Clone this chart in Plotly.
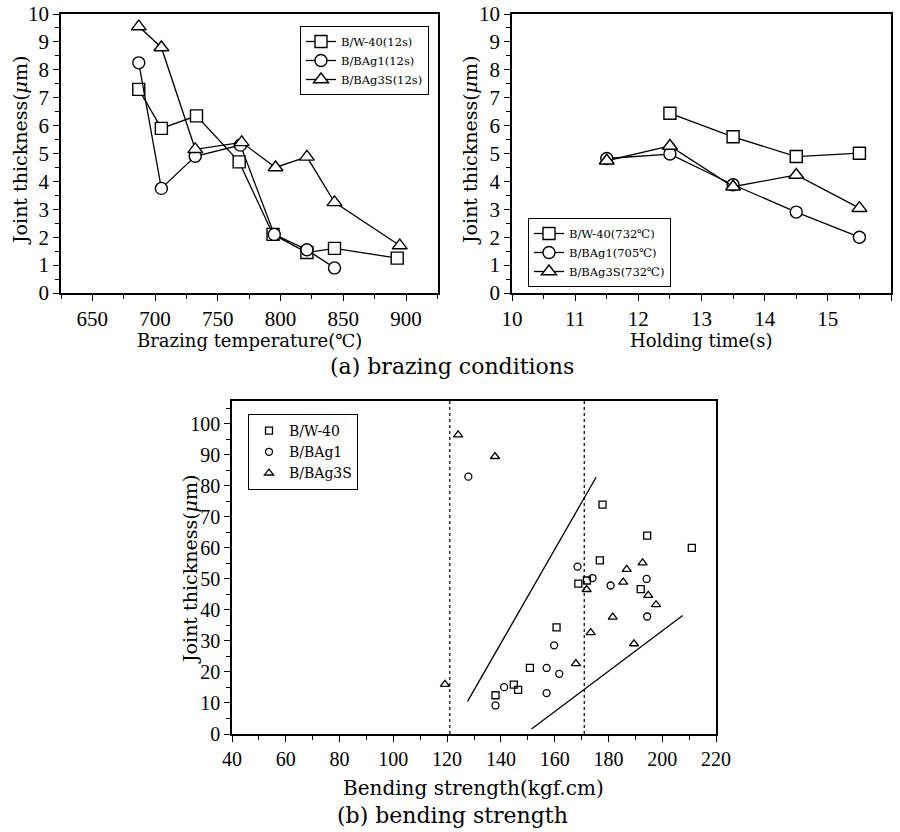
import plotly.graph_objects as go

# ---------------- data ----------------
# (a) left: joint thickness vs brazing temperature (12 s)
temp_w40 = [687, 705, 733, 767, 794, 821, 843, 893]
thk_w40 = [7.3, 5.9, 6.35, 4.7, 2.1, 1.45, 1.6, 1.25]
temp_bag1 = [687, 705, 732, 768, 795, 821, 843]
thk_bag1 = [8.25, 3.75, 4.9, 5.3, 2.1, 1.55, 0.9]
temp_bag3s = [687, 705, 732, 769, 796, 821, 843, 895]
thk_bag3s = [9.55, 8.8, 5.15, 5.4, 4.5, 4.88, 3.25, 1.7]

# (a) right: joint thickness vs holding time
time_w40 = [12.5, 13.5, 14.5, 15.5]
hthk_w40 = [6.44, 5.6, 4.89, 5.01]
time_bag1 = [11.5, 12.5, 13.5, 14.5, 15.5]
hthk_bag1 = [4.82, 4.98, 3.88, 2.9, 2.0]
time_bag3s = [11.5, 12.5, 13.5, 14.5, 15.5]
hthk_bag3s = [4.74, 5.27, 3.81, 4.23, 3.04]

# (b): joint thickness vs bending strength
bs_w40 = [177.8, 194.4, 211.0, 176.8, 168.8, 172.0, 192.0, 160.7, 150.8, 138.0, 144.8, 146.4]
jt_w40 = [74.0, 64.0, 60.0, 56.0, 48.5, 49.5, 46.7, 34.4, 21.3, 12.5, 15.9, 14.2]
bs_bag1 = [127.9, 168.5, 174.1, 180.8, 194.2, 194.4, 159.8, 157.0, 161.7, 157.0, 141.2, 138.0]
jt_bag1 = [83.0, 54.0, 50.3, 47.9, 50.0, 37.9, 28.6, 21.3, 19.4, 13.2, 15.1, 9.2]
bs_bag3s = [124.1, 137.8, 119.2, 167.9, 171.9, 173.4, 181.6, 185.5, 186.8, 192.7, 194.8, 197.7, 189.5]
jt_bag3s = [96.5, 89.5, 16.0, 22.7, 46.6, 32.7, 37.7, 49.0, 53.1, 55.2, 44.7, 41.7, 29.1]

# guide lines in (b)
upper_bs = [127.6, 175.4]
upper_jt = [10.5, 82.8]
lower_bs = [151.4, 207.6]
lower_jt = [1.6, 38.2]
limit_bs = [121, 171]
limit_jt = [0, 107.4]

W, H = 900, 832
SERIF = "DejaVu Serif"
TICKFONT = "Liberation Serif"


def px(x):
    return x / W


def py(y):
    return 1 - y / H


fig = go.Figure()

big = dict(size=12, color="white", line=dict(color="black", width=1.4))
line_style = dict(color="black", width=1.3)

# ---- top-left traces
fig.add_trace(go.Scatter(x=temp_w40, y=thk_w40, mode="lines+markers", name="B/W-40(12s)",
                         marker=dict(symbol="square", **big), line=line_style,
                         xaxis="x", yaxis="y", legend="legend"))
fig.add_trace(go.Scatter(x=temp_bag1, y=thk_bag1, mode="lines+markers", name="B/BAg1(12s)",
                         marker=dict(symbol="circle", **big), line=line_style,
                         xaxis="x", yaxis="y", legend="legend"))
fig.add_trace(go.Scatter(x=temp_bag3s, y=thk_bag3s, mode="lines+markers", name="B/BAg3S(12s)",
                         marker=dict(symbol="triangle-up", size=13, color="white",
                                     line=dict(color="black", width=1.4)),
                         line=line_style, xaxis="x", yaxis="y", legend="legend"))

# ---- top-right traces
fig.add_trace(go.Scatter(x=time_w40, y=hthk_w40, mode="lines+markers", name="B/W-40(732℃)",
                         marker=dict(symbol="square", **big), line=line_style,
                         xaxis="x2", yaxis="y2", legend="legend2"))
fig.add_trace(go.Scatter(x=time_bag1, y=hthk_bag1, mode="lines+markers", name="B/BAg1(705℃)",
                         marker=dict(symbol="circle", **big), line=line_style,
                         xaxis="x2", yaxis="y2", legend="legend2"))
fig.add_trace(go.Scatter(x=time_bag3s, y=hthk_bag3s, mode="lines+markers", name="B/BAg3S(732℃)",
                         marker=dict(symbol="triangle-up", size=13, color="white",
                                     line=dict(color="black", width=1.4)),
                         line=line_style, xaxis="x2", yaxis="y2", legend="legend2"))

# ---- bottom: guide lines
for xv in limit_bs:
    fig.add_trace(go.Scatter(x=[xv, xv], y=limit_jt, mode="lines", showlegend=False,
                             line=dict(color="black", width=1.2, dash="dot"),
                             xaxis="x3", yaxis="y3", hoverinfo="skip"))
fig.add_trace(go.Scatter(x=upper_bs, y=upper_jt, mode="lines", showlegend=False,
                         line=dict(color="black", width=1.3), xaxis="x3", yaxis="y3"))
fig.add_trace(go.Scatter(x=lower_bs, y=lower_jt, mode="lines", showlegend=False,
                         line=dict(color="black", width=1.3), xaxis="x3", yaxis="y3"))

small_line = dict(color="black", width=1.3)
fig.add_trace(go.Scatter(x=bs_w40, y=jt_w40, mode="markers", name="B/W-40",
                         marker=dict(symbol="square-open", size=7, color="black", line=small_line),
                         xaxis="x3", yaxis="y3", legend="legend3"))
fig.add_trace(go.Scatter(x=bs_bag1, y=jt_bag1, mode="markers", name="B/BAg1",
                         marker=dict(symbol="circle-open", size=7, color="black", line=small_line),
                         xaxis="x3", yaxis="y3", legend="legend3"))
fig.add_trace(go.Scatter(x=bs_bag3s, y=jt_bag3s, mode="markers", name="B/BAg3S",
                         marker=dict(symbol="triangle-up-open", size=8, color="black", line=small_line),
                         xaxis="x3", yaxis="y3", legend="legend3"))


def axis(domain, rng, dtick, mdtick, anchor, tick0=None, fsize=21):
    d = dict(domain=domain, range=rng, dtick=dtick, anchor=anchor,
             showline=True, mirror=True, linecolor="black", linewidth=1.5,
             ticks="outside", ticklen=6, tickwidth=1.2, tickcolor="black",
             minor=dict(ticks="outside", ticklen=4, tickwidth=1, tickcolor="black", dtick=mdtick),
             showgrid=False, zeroline=False, automargin=False,
             tickfont=dict(family=TICKFONT, size=fsize, color="black"))
    if tick0 is not None:
        d["tick0"] = tick0
    return d


fig.update_layout(
    width=W, height=H,
    margin=dict(l=0, r=0, t=0, b=0),
    paper_bgcolor="white", plot_bgcolor="white",
    font=dict(family=SERIF, color="black"),
    xaxis=axis([px(61), px(438)], [625, 925.5], 50, 25, "y", tick0=650),
    yaxis=axis([py(293), py(14)], [0, 10], 1, 0.5, "x"),
    xaxis2=axis([px(512), px(891)], [10, 16], 1, 0.5, "y2"),
    yaxis2=axis([py(293), py(14)], [0, 10], 1, 0.5, "x2"),
    xaxis3=axis([px(232), px(716)], [40, 220], 20, 10, "y3", fsize=20),
    yaxis3=axis([py(734), py(401)], [0, 107.4], 10, 5, "x3", fsize=20),
    legend=dict(x=px(300), y=py(26), xanchor="left", yanchor="top",
                bordercolor="black", borderwidth=1, bgcolor="white",
                font=dict(family=SERIF, size=11.5), tracegroupgap=0),
    legend2=dict(x=px(528), y=py(218), xanchor="left", yanchor="top",
                 bordercolor="black", borderwidth=1, bgcolor="white",
                 font=dict(family=SERIF, size=11.5), tracegroupgap=0),
    legend3=dict(x=px(248), y=py(414), xanchor="left", yanchor="top",
                 bordercolor="black", borderwidth=1, bgcolor="white",
                 font=dict(family=SERIF, size=14), tracegroupgap=0),
)

ann = []


def add_text(text, x, y, size, angle=0):
    ann.append(dict(text=text, x=px(x), y=py(y), xref="paper", yref="paper",
                    showarrow=False, xanchor="center", yanchor="middle",
                    textangle=angle, font=dict(family=SERIF, size=size, color="black")))


add_text("Brazing temperature(℃)", 249, 340, 18)
add_text("Holding time(s)", 701, 340, 18)
add_text("Joint thickness(<i>μ</i>m)", 20, 151, 19, -90)
add_text("Joint thickness(<i>μ</i>m)", 470, 151, 19, -90)
add_text("(a) brazing conditions", 452, 366, 22)
add_text("Bending strength(kgf.cm)", 474, 788, 20)
add_text("Joint thickness(<i>μ</i>m)", 190, 570, 19, -90)
add_text("(b) bending strength", 452, 815, 22)
fig.update_layout(annotations=ann)

fig.write_html("out.html", config={"displayModeBar": False},
               post_script="document.body.style.margin='0';")
